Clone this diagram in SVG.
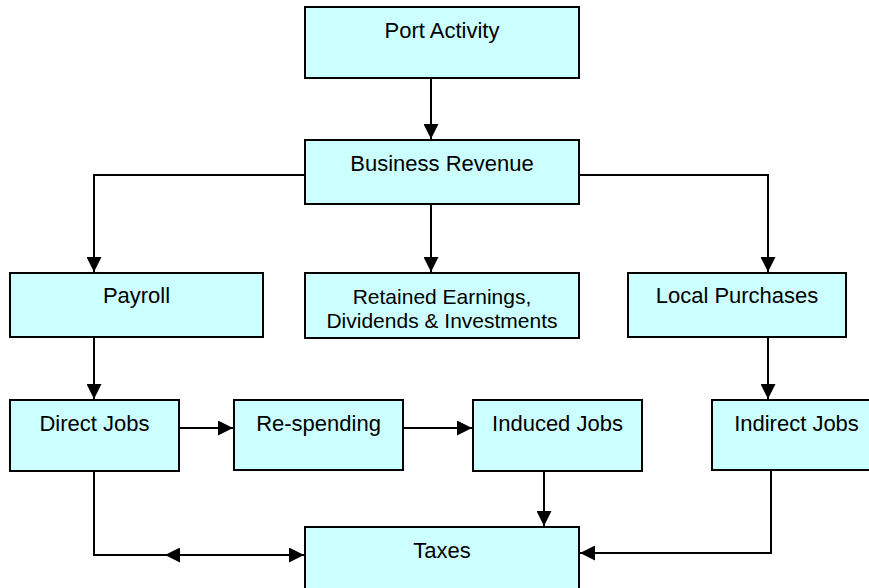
<svg xmlns="http://www.w3.org/2000/svg" width="869" height="588" viewBox="0 0 869 588">
<style>
.box{fill:#CCFFFF;stroke:#000;stroke-width:2}
.lbl{font-family:"Liberation Sans",Arial,sans-serif;font-size:22px;fill:#000;text-anchor:middle}
.sm{font-size:21px}
.con{fill:none;stroke:#000;stroke-width:2}
</style>
<defs>
<marker id="ah" markerUnits="userSpaceOnUse" markerWidth="15" markerHeight="15" viewBox="0 0 15 15" refX="15" refY="7.5" orient="auto">
<path d="M0,0 L15,7.5 L0,15 z" fill="#000"/>
</marker>
</defs>
<rect width="869" height="588" fill="#fff"/>
<g id="connectors">
<path class="con" d="M431,78 V139" marker-end="url(#ah)"/>
<path class="con" d="M305,175 H94 V272" marker-end="url(#ah)"/>
<path class="con" d="M431,204 V272" marker-end="url(#ah)"/>
<path class="con" d="M579,175 H768 V272" marker-end="url(#ah)"/>
<path class="con" d="M94,335 V399" marker-end="url(#ah)"/>
<path class="con" d="M768,337 V399" marker-end="url(#ah)"/>
<path class="con" d="M179,428 H233" marker-end="url(#ah)"/>
<path class="con" d="M403,428 H472" marker-end="url(#ah)"/>
<path class="con" d="M544,471 V526" marker-end="url(#ah)"/>
<path class="con" d="M771,470 V553 H580" marker-end="url(#ah)"/>
<path class="con" d="M94,471 V555 H304" marker-end="url(#ah)"/>
<path class="con" d="M185,555 H165" marker-end="url(#ah)"/>
</g>
<g id="port-activity"><rect class="box" x="305" y="7" width="274" height="71"/><text class="lbl" x="442" y="38">Port Activity</text></g>
<g id="business-revenue"><rect class="box" x="305" y="140" width="274" height="64"/><text class="lbl" x="442" y="171">Business Revenue</text></g>
<g id="payroll"><rect class="box" x="10" y="273" width="253" height="64"/><text class="lbl" x="136.5" y="303">Payroll</text></g>
<g id="retained-earnings"><rect class="box" x="305" y="273" width="274" height="65"/><text class="lbl sm" x="442" y="304">Retained Earnings,</text><text class="lbl sm" x="442" y="328">Dividends &amp; Investments</text></g>
<g id="local-purchases"><rect class="box" x="628" y="273" width="218" height="64"/><text class="lbl" x="737" y="303">Local Purchases</text></g>
<g id="direct-jobs"><rect class="box" x="10" y="400" width="169" height="71"/><text class="lbl" x="94.5" y="431">Direct Jobs</text></g>
<g id="re-spending"><rect class="box" x="234" y="400" width="169" height="70"/><text class="lbl" x="318.5" y="431">Re-spending</text></g>
<g id="induced-jobs"><rect class="box" x="473" y="400" width="169" height="71"/><text class="lbl" x="557.5" y="431">Induced Jobs</text></g>
<g id="indirect-jobs"><rect class="box" x="712" y="400" width="169" height="70"/><text class="lbl" x="796.5" y="431">Indirect Jobs</text></g>
<g id="taxes"><rect class="box" x="305" y="527" width="274" height="75"/><text class="lbl" x="442" y="558">Taxes</text></g>
</svg>
